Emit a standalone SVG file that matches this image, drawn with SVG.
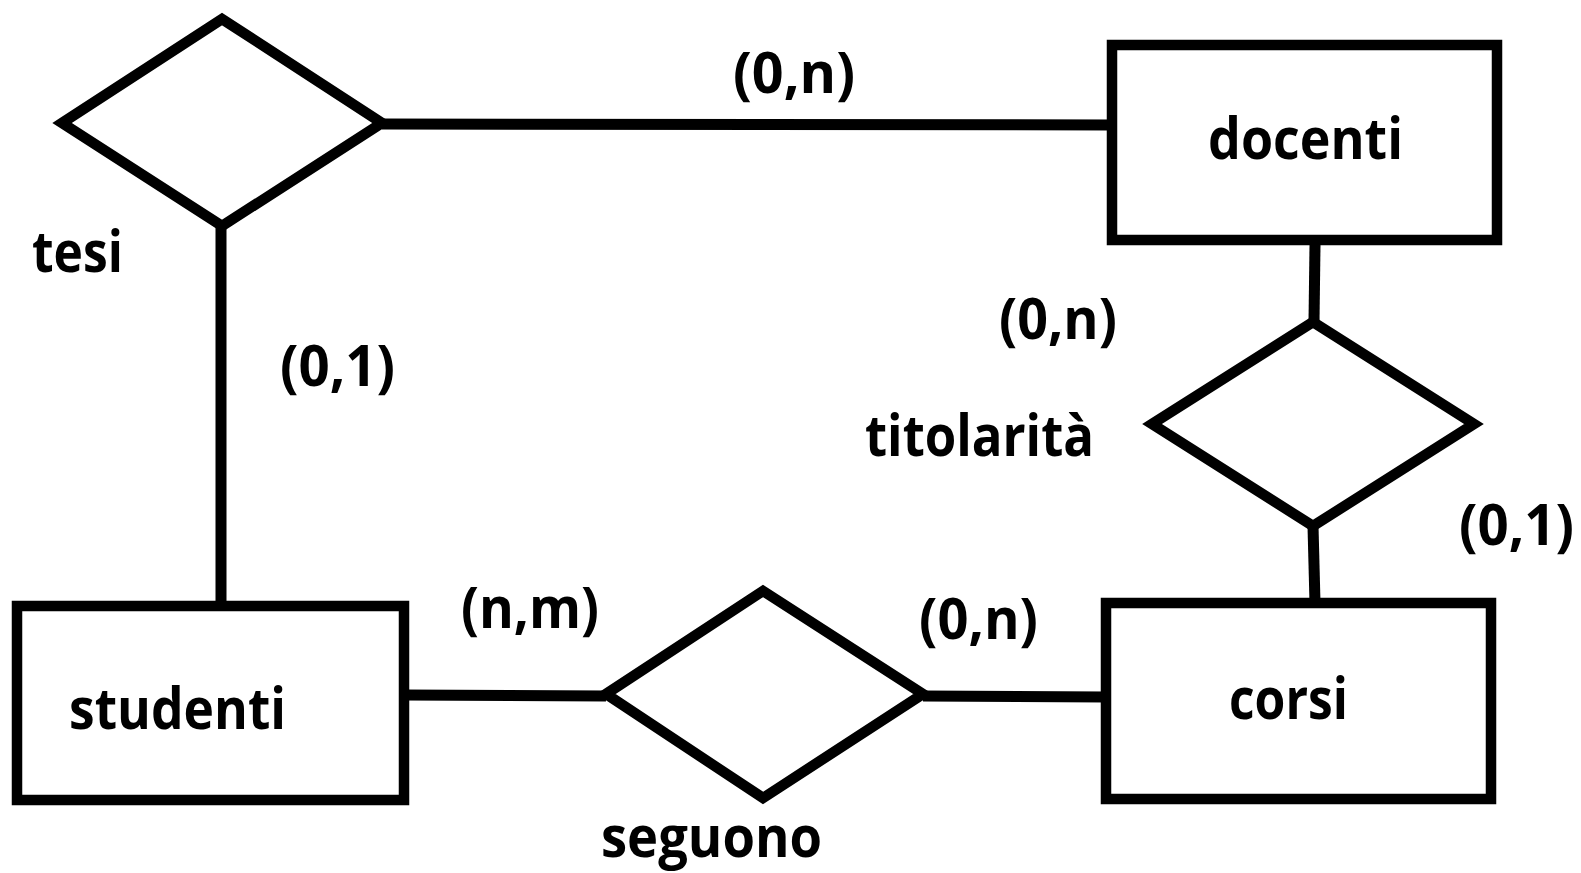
<svg xmlns="http://www.w3.org/2000/svg" width="1581" height="873" viewBox="0 0 1581 873">
<style>
.shape{fill:#ffffff;stroke:#000000;stroke-width:10.5;stroke-linejoin:miter}
.conn{fill:none;stroke:#000000;stroke-width:11}
text{font-family:"Open Sans","Liberation Sans",sans-serif;font-weight:bold;font-size:58px;fill:#000000}
</style>
<rect x="0" y="0" width="1581" height="873" fill="#ffffff"/>
<g id="connectors">
<line class="conn" x1="382" y1="124" x2="1112" y2="125"/>
<line class="conn" x1="221" y1="226" x2="221" y2="606"/>
<line class="conn" x1="1315" y1="245" x2="1314" y2="322"/>
<line class="conn" x1="1313" y1="526" x2="1315" y2="603"/>
<line class="conn" x1="404" y1="695" x2="606" y2="696"/>
<line class="conn" x1="923" y1="696" x2="1106" y2="697"/>
</g>
<g id="tesi">
<polygon class="shape" points="62,123 222,19 382,123 222,226"/>
<text x="32" y="272" textLength="91" lengthAdjust="spacingAndGlyphs">tesi</text>
</g>
<g id="docenti">
<rect class="shape" x="1112" y="45" width="385" height="195"/>
<text x="1208" y="159" textLength="195" lengthAdjust="spacingAndGlyphs">docenti</text>
</g>
<g id="titolarita">
<polygon class="shape" points="1152,424 1313,322 1474,424 1313,526"/>
<text x="865" y="456" textLength="229" lengthAdjust="spacingAndGlyphs">titolarità</text>
</g>
<g id="corsi">
<rect class="shape" x="1106" y="603" width="385" height="196"/>
<text x="1229" y="719" textLength="119" lengthAdjust="spacingAndGlyphs">corsi</text>
</g>
<g id="studenti">
<rect class="shape" x="17" y="606" width="387" height="194"/>
<text x="69" y="729" textLength="217" lengthAdjust="spacingAndGlyphs">studenti</text>
</g>
<g id="seguono">
<polygon class="shape" points="606,694 763,591 923,694 763,798"/>
<text x="601" y="857" textLength="221" lengthAdjust="spacingAndGlyphs">seguono</text>
</g>
<g id="labels">
<text x="733" y="93" textLength="122" lengthAdjust="spacingAndGlyphs">(0,n)</text>
<text x="280" y="386" textLength="115" lengthAdjust="spacingAndGlyphs">(0,1)</text>
<text x="999" y="339" textLength="118" lengthAdjust="spacingAndGlyphs">(0,n)</text>
<text x="1459" y="545" textLength="115" lengthAdjust="spacingAndGlyphs">(0,1)</text>
<text x="461" y="628" textLength="138" lengthAdjust="spacingAndGlyphs">(n,m)</text>
<text x="919" y="639" textLength="119" lengthAdjust="spacingAndGlyphs">(0,n)</text>
</g>
</svg>
